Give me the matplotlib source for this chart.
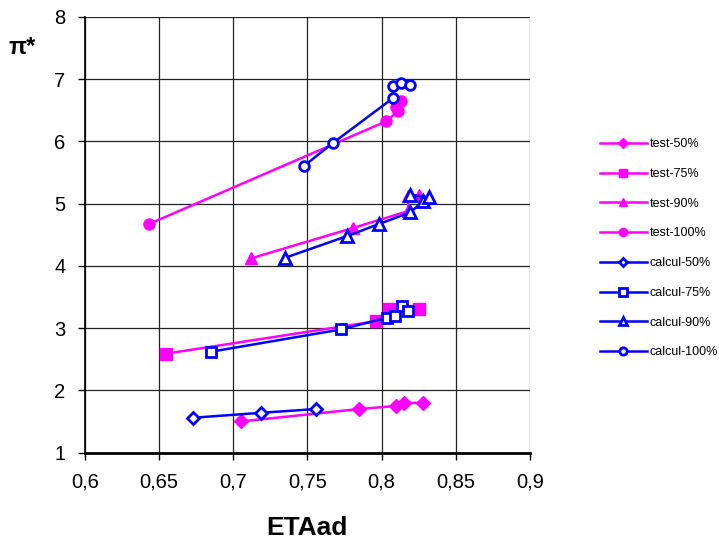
import matplotlib
matplotlib.use('Agg')
import matplotlib.pyplot as plt

plt.rcParams['font.family'] = ['Liberation Sans', 'DejaVu Sans']

# ETAad / pi* values
test50_x = [0.705, 0.785, 0.81, 0.815, 0.828]
test50_y = [1.50, 1.70, 1.75, 1.80, 1.80]
test75_x = [0.655, 0.796, 0.805, 0.825]
test75_y = [2.59, 3.11, 3.31, 3.31]
test90_x = [0.712, 0.781, 0.818, 0.818, 0.825, 0.828]
test90_y = [4.12, 4.61, 4.88, 5.12, 5.14, 5.04]
test100_x = [0.643, 0.803, 0.811, 0.810, 0.813]
test100_y = [4.67, 6.32, 6.48, 6.56, 6.65]

calc50_x = [0.673, 0.719, 0.756]
calc50_y = [1.56, 1.64, 1.70]
calc75_x = [0.685, 0.773, 0.804, 0.809, 0.8135, 0.818]
calc75_y = [2.62, 2.98, 3.17, 3.20, 3.35, 3.27]
calc90_x = [0.735, 0.777, 0.798, 0.8195, 0.828, 0.832, 0.8195]
calc90_y = [4.13, 4.48, 4.67, 4.86, 5.04, 5.10, 5.14]
calc100_x = [0.748, 0.767, 0.808, 0.8075, 0.813, 0.819]
calc100_y = [5.61, 5.97, 6.70, 6.89, 6.94, 6.91]

x_ticks = [0.6, 0.65, 0.7, 0.75, 0.8, 0.85, 0.9]
x_labels = ['0,6', '0,65', '0,7', '0,75', '0,8', '0,85', '0,9']
y_ticks = [1, 2, 3, 4, 5, 6, 7, 8]

pink = '#FF00FF'
blue = '#0000FF'

fig = plt.figure(figsize=(7.19, 5.44), dpi=100)
ax = fig.add_axes([0.118, 0.168, 0.619, 0.801])

lw = 1.8
ax.plot(test50_x, test50_y, '-', color=pink, lw=lw, marker='D', ms=7, mfc=pink, mec=pink, label='test-50%')
ax.plot(test75_x, test75_y, '-', color=pink, lw=lw, marker='s', ms=8, mfc=pink, mec=pink, label='test-75%')
ax.plot(test90_x, test90_y, '-', color=pink, lw=lw, marker='^', ms=8, mfc=pink, mec=pink, label='test-90%')
ax.plot(test100_x, test100_y, '-', color=pink, lw=lw, marker='o', ms=8, mfc=pink, mec=pink, label='test-100%')
ax.plot(calc50_x, calc50_y, '-', color=blue, lw=lw, marker='D', ms=6, mfc='white', mec=blue, mew=2, label='calcul-50%')
ax.plot(calc75_x, calc75_y, '-', color=blue, lw=lw, marker='s', ms=7, mfc='white', mec=blue, mew=2, label='calcul-75%')
ax.plot(calc90_x, calc90_y, '-', color=blue, lw=lw, marker='^', ms=8, mfc='white', mec=blue, mew=2, label='calcul-90%')
ax.plot(calc100_x, calc100_y, '-', color=blue, lw=lw, marker='o', ms=7, mfc='white', mec=blue, mew=2, label='calcul-100%')

ax.set_xlim(0.6, 0.9)
ax.set_ylim(1, 8)
ax.set_xticks(x_ticks)
ax.set_xticklabels(x_labels)
ax.set_yticks(y_ticks)
ax.tick_params(direction='out', length=5, width=1, labelsize=14.5, pad=9)
ax.grid(True, color='#222222', lw=0.9)
ax.set_axisbelow(True)
for s in ['top', 'right']:
    ax.spines[s].set_visible(False)
ax.spines['left'].set_linewidth(1.2)
ax.spines['bottom'].set_linewidth(2)

ax.set_xlabel('ETAad', fontsize=19, fontweight='bold', labelpad=18)
fig.text(0.031, 0.913, 'π*', fontsize=17, fontweight='bold', ha='center', va='center')

ax.legend(loc='upper left', bbox_to_anchor=(0.834, 0.746), bbox_transform=fig.transFigure,
          frameon=False, fontsize=9, handlelength=3.8, handletextpad=0.2,
          labelspacing=1.42, borderpad=0, borderaxespad=0, markerscale=0.75)

fig.savefig('out.png', dpi=100)
